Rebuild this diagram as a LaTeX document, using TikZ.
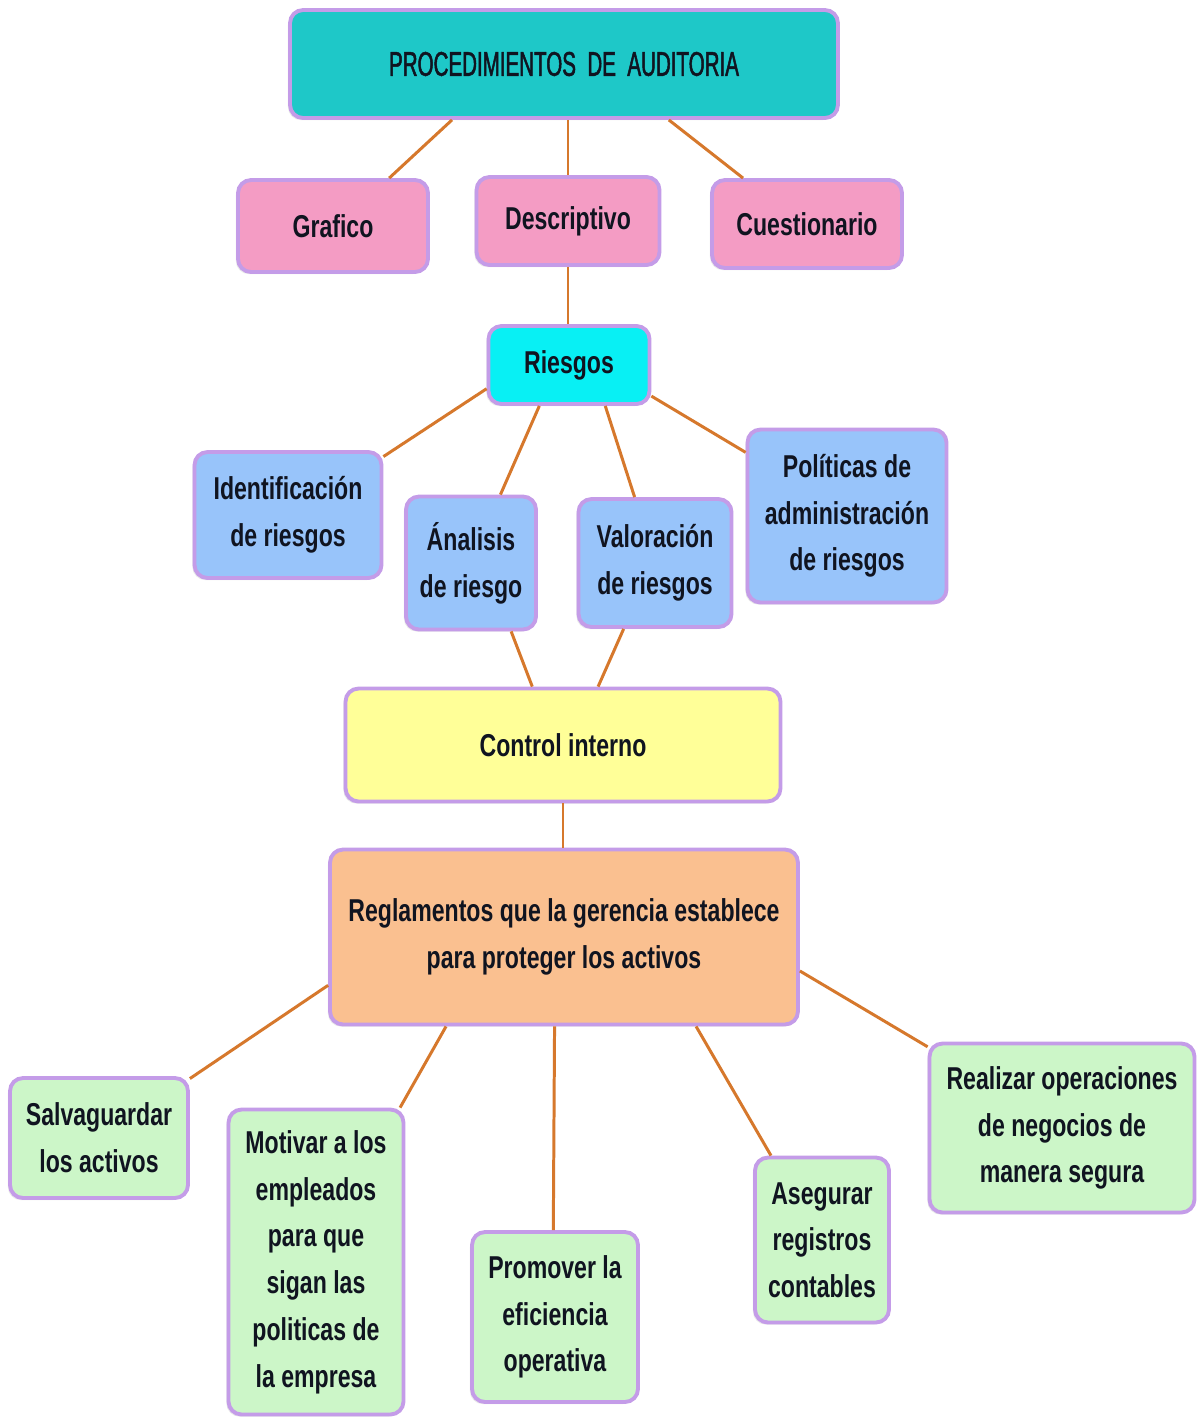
\documentclass[tikz,border=0pt]{standalone}
\usepackage{fontspec}
\usetikzlibrary{calc,shadows}
\newfontfamily\boxfont{Liberation Sans}[FakeStretch=0.73]
\newfontfamily\headfont{Liberation Sans}[FakeStretch=0.6,FakeBold=1.4]

\definecolor{edgepurple}{RGB}{196,156,232}
\definecolor{linkorange}{RGB}{214,120,44}
\definecolor{tealfill}{RGB}{30,200,200}
\definecolor{pinkfill}{RGB}{244,156,196}
\definecolor{cyanfill}{RGB}{8,240,244}
\definecolor{bluefill}{RGB}{152,196,250}
\definecolor{yellowfill}{RGB}{255,255,152}
\definecolor{orangefill}{RGB}{250,192,144}
\definecolor{greenfill}{RGB}{204,246,200}
\definecolor{inkdark}{RGB}{16,20,32}

\tikzset{
  box/.style={draw=edgepurple, line width=2.2pt, rounded corners=0.26cm,
    align=center, inner sep=0pt, text=inkdark,
    font=\boxfont\bfseries\fontsize{18}{26.6}\selectfont,
    drop shadow={shadow xshift=-1.2pt, shadow yshift=-1.2pt, opacity=0.18}},
  link/.style={draw=linkorange, line width=1.7pt}
}

\begin{document}
\begin{tikzpicture}[x=0.02cm,y=-0.02cm]
\useasboundingbox (0,0) rectangle (1203,1417);
\fill[white] (0,0) rectangle (1203,1417);

% top level
\node[box, fill=tealfill, minimum width=10.96cm, minimum height=2.16cm,
  font=\headfont\fontsize{19.5}{24}\selectfont] (title) at (564,64)
  {PROCEDIMIENTOS\ \ DE\ \ AUDITORIA};

\node[box, fill=pinkfill, minimum width=3.8cm, minimum height=1.84cm] (grafico) at (333,226) {Grafico};
\node[box, fill=pinkfill, minimum width=3.66cm, minimum height=1.76cm] (descriptivo) at (568,221) {Descriptivo};
\node[box, fill=pinkfill, minimum width=3.8cm, minimum height=1.76cm] (cuestionario) at (807,224) {Cuestionario};

% risks
\node[box, fill=cyanfill, minimum width=3.22cm, minimum height=1.56cm] (riesgos) at (569,365) {Riesgos};

\node[box, fill=bluefill, minimum width=3.74cm, minimum height=2.52cm] (ident) at (288,515) {Identificación\\de riesgos};
\node[box, fill=bluefill, minimum width=2.6cm, minimum height=2.66cm] (analisis) at (471,563) {Ánalisis\\de riesgo};
\node[box, fill=bluefill, minimum width=3.06cm, minimum height=2.56cm] (valor) at (655,563) {Valoración\\de riesgos};
\node[box, fill=bluefill, minimum width=3.98cm, minimum height=3.46cm] (politicas) at (847,516) {Políticas de\\administración\\de riesgos};

% internal control
\node[box, fill=yellowfill, minimum width=8.7cm, minimum height=2.26cm] (control) at (563,745) {Control interno};
\node[box, fill=orangefill, minimum width=9.36cm, minimum height=3.5cm] (regla) at (564,937) {Reglamentos que la gerencia establece\\para proteger los activos};

% objectives
\node[box, fill=greenfill, minimum width=3.56cm, minimum height=2.4cm] (salva) at (99,1138) {Salvaguardar\\los activos};
\node[box, fill=greenfill, minimum width=3.5cm, minimum height=6.1cm] (motivar) at (316,1262) {Motivar a los\\empleados\\para que\\sigan las\\politicas de\\la empresa};
\node[box, fill=greenfill, minimum width=3.32cm, minimum height=3.4cm] (promover) at (555,1317) {Promover la\\eficiencia\\operativa};
\node[box, fill=greenfill, minimum width=2.68cm, minimum height=3.3cm] (asegurar) at (822,1240) {Asegurar\\registros\\contables};
\node[box, fill=greenfill, minimum width=5.3cm, minimum height=3.38cm] (realizar) at (1062,1128) {Realizar operaciones\\de negocios de\\manera segura};

% connectors
\draw[link] ($(title.south west)!0.297!(title.south east)$) -- ($(grafico.north west)!0.79!(grafico.north east)$);
\draw[link] (title.south -| descriptivo.north) -- (descriptivo.north);
\draw[link] ($(title.south west)!0.69!(title.south east)$) -- ($(cuestionario.north west)!0.17!(cuestionario.north east)$);
\draw[link] (descriptivo.south) -- (descriptivo.south |- riesgos.north);

\draw[link] ($(riesgos.north west)!0.79!(riesgos.south west)$) -- ($(ident.north east)!0.05!(ident.south east)$);
\draw[link] ($(riesgos.south west)!0.32!(riesgos.south east)$) -- ($(analisis.north west)!0.72!(analisis.north east)$);
\draw[link] ($(riesgos.south west)!0.72!(riesgos.south east)$) -- ($(valor.north west)!0.37!(valor.north east)$);
\draw[link] ($(riesgos.north east)!0.88!(riesgos.south east)$) -- ($(politicas.north west)!0.14!(politicas.south west)$);

\draw[link] ($(analisis.south west)!0.8!(analisis.south east)$) -- ($(control.north west)!0.43!(control.north east)$);
\draw[link] ($(valor.south west)!0.3!(valor.south east)$) -- ($(control.north west)!0.58!(control.north east)$);
\draw[link] (control.south) -- (control.south |- regla.north);

\draw[link] ($(regla.north west)!0.77!(regla.south west)$) -- ($(salva.north east)!0.02!(salva.south east)$);
\draw[link] ($(regla.south west)!0.25!(regla.south east)$) -- ($(motivar.north west)!0.97!(motivar.north east)$);
\draw[link] ($(regla.south west)!0.48!(regla.south east)$) -- ($(promover.north west)!0.49!(promover.north east)$);
\draw[link] ($(regla.south west)!0.78!(regla.south east)$) -- ($(asegurar.north west)!0.13!(asegurar.north east)$);
\draw[link] ($(regla.north east)!0.69!(regla.south east)$) -- ($(realizar.north west)!0.03!(realizar.south west)$);
\end{tikzpicture}
\end{document}
